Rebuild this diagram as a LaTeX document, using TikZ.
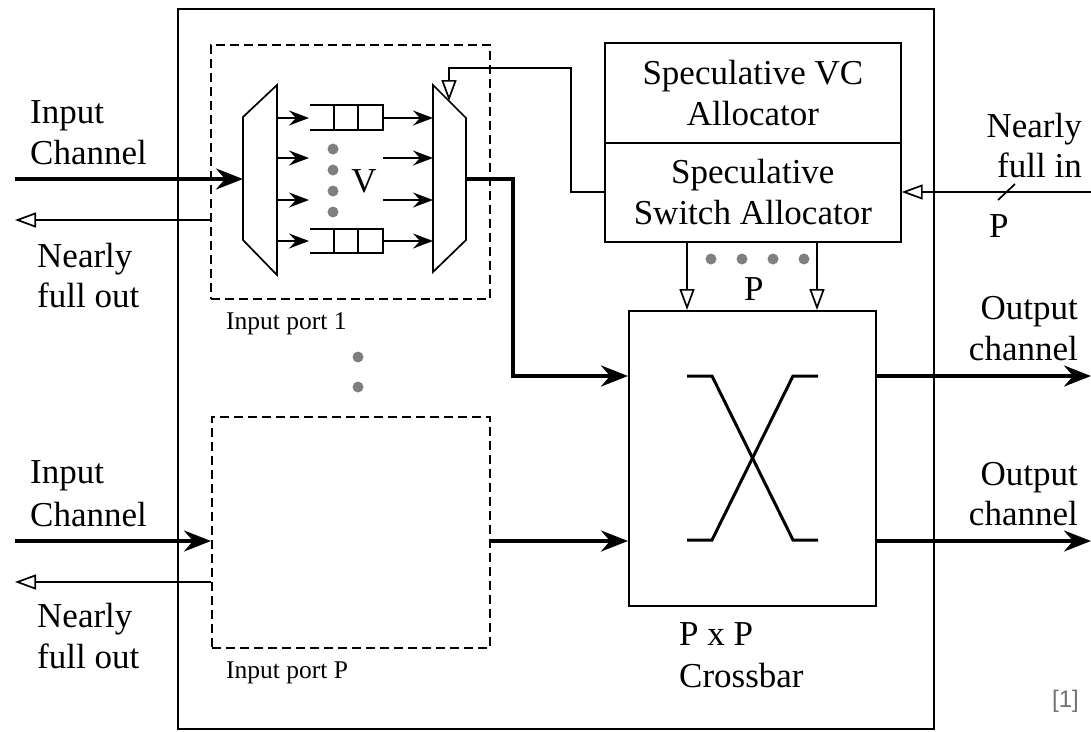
\documentclass[tikz,border=0pt]{standalone}
\usepackage{fontspec}
\setmainfont{Liberation Serif}
\newfontfamily\refsans{Liberation Sans}
\usetikzlibrary{arrows.meta}
\begin{document}
\begin{tikzpicture}[x=1pt,y=-1pt,
  thinl/.style={line width=1.7pt},
  thickl/.style={line width=3.8pt},
  bigtext/.style={font=\fontsize{35}{41}\selectfont, inner sep=0pt},
  portlabel/.style={font=\fontsize{25.5}{30}\selectfont, inner sep=0pt},
  bigarrow/.style={thickl, line join=miter, -{Stealth[length=27pt,width=21pt,inset=9pt]}},
  smallarrow/.style={thinl, -{Stealth[length=20pt,width=15pt,inset=7pt]}},
  openarrow/.style={thinl, -{Triangle[open,length=21pt,width=15pt,fill=white]}},
  portbox/.style={draw, thinl, dash pattern=on 9pt off 5pt, inner sep=0pt, anchor=north west},
  blockbox/.style={draw, thinl, inner sep=0pt, anchor=north west, align=center,
                   font=\fontsize{35}{41}\selectfont},
  graydot/.style={circle, fill=black!50, minimum size=11pt, inner sep=0pt},
]
\useasboundingbox (0,0) rectangle (1091,731);

% router outline
\node[draw, thinl, inner sep=0pt, anchor=north west, minimum width=756pt, minimum height=720pt] (router) at (177,8) {};

% input ports
\node[portbox, minimum width=279pt, minimum height=254pt] (port1) at (210,44) {};
\node[portbox, minimum width=278pt, minimum height=231pt] (portP) at (211,416) {};
\node[portlabel, anchor=base west] (port1lbl) at (226,329) {Input port 1};
\node[portlabel, anchor=base west] (portPlbl) at (226,678) {Input port P};
\node[graydot] (pd1) at (358,357) {};
\node[graydot] (pd2) at (358,387) {};

% allocators
\node[blockbox, minimum width=296pt, minimum height=100pt] (vcalloc) at (604,42) {Speculative VC\\Allocator};
\node[blockbox, minimum width=296pt, minimum height=99pt] (swalloc) at (604,142) {Speculative\\Switch Allocator};

% crossbar
\node[draw, thinl, inner sep=0pt, anchor=north west, minimum width=247pt, minimum height=295pt] (xbar) at (628,310) {};
\draw[line width=3pt] (687,376) -- (712,376) -- (793,540) -- (818,540);
\draw[line width=3pt] (687,540) -- (712,540) -- (793,376) -- (818,376);
\node[bigtext, anchor=base west] (xbarlbl1) at (679,645) {P x P};
\node[bigtext, anchor=base west] (xbarlbl2) at (679,687) {Crossbar};

% demux and mux
\coordinate (d1) at (277,85); \coordinate (d2) at (243,117);
\coordinate (d3) at (243,240); \coordinate (d4) at (277,275);
\draw[thinl, line join=miter] (d1) -- (d2) -- (d3) -- (d4) -- cycle;
\coordinate (m1) at (433,85); \coordinate (m2) at (466,118);
\coordinate (m3) at (466,240); \coordinate (m4) at (433,272);
\draw[thinl, line join=miter] (m1) -- (m2) -- (m3) -- (m4) -- cycle;

% queues
\draw[thinl] (310,105) -- (383,105) -- (383,130) -- (310,130);
\draw[thinl] (334,105) -- (334,130) (358,105) -- (358,130);
\draw[thinl] (310,229) -- (383,229) -- (383,253) -- (310,253);
\draw[thinl] (334,229) -- (334,253) (358,229) -- (358,253);

% arrows demux -> queues, queues -> mux
\foreach \yy in {118,158,200,241} {
  \coordinate (qa\yy) at (277,\yy);
  \coordinate (qb\yy) at (309,\yy);
  \coordinate (qc\yy) at (383,\yy);
  \coordinate (qd\yy) at (433,\yy);
  \draw[smallarrow] (qa\yy) -- (qb\yy);
  \draw[smallarrow] (qc\yy) -- (qd\yy);
}
\foreach \yy in {149,170,191,212} { \node[graydot] (vd\yy) at (333,\yy) {}; }
\node[bigtext, anchor=base] (vlbl) at (364,192) {V};

% input port 1 connections
\coordinate (in1) at (15,179); \coordinate (dmxin) at (243,179);
\draw[bigarrow] (in1) -- (dmxin);
\coordinate (nfo1s) at (210,220); \coordinate (nfo1e) at (15,220);
\draw[openarrow] (nfo1s) -- (nfo1e);
\coordinate (muxout) at (466,179);
\draw[bigarrow] (muxout) -- (513,179) -- (513,376) -- (xbar.west |- 0,376);

% input port P connections
\coordinate (inP) at (15,541);
\draw[bigarrow] (inP) -- (portP.west |- 0,541);
\coordinate (nfoPe) at (15,582);
\draw[openarrow] (portP.west |- 0,582) -- (nfoPe);
\draw[bigarrow] (portP.east |- 0,541) -- (xbar.west |- 0,541);

% feedback from switch allocator to mux
\coordinate (muxsel) at (449,101);
\draw[openarrow] (swalloc.west |- 0,192) -- (571,192) -- (571,68) -- (449,68) -- (muxsel);

% nearly full in
\coordinate (nfin) at (1091,192);
\draw[openarrow] (nfin) -- (swalloc.east |- 0,192);
\draw[thinl] (998,200) -- (1015,184);
\node[bigtext, anchor=base west] (nfinP) at (989,237) {P};

% allocator -> crossbar
\draw[openarrow] (687,241) -- (687,310);
\draw[openarrow] (817,241) -- (817,310);
\foreach \xx in {711,742,773,804} { \node[graydot] (ad\xx) at (\xx,259) {}; }
\node[bigtext, anchor=base west] (allocP) at (744,300) {P};

% outputs
\coordinate (out1) at (1091,376); \coordinate (out2) at (1091,541);
\draw[bigarrow] (xbar.east |- 0,376) -- (out1);
\draw[bigarrow] (xbar.east |- 0,541) -- (out2);

% labels left
\node[bigtext, anchor=base west] (l1) at (30,123) {Input};
\node[bigtext, anchor=base west] (l2) at (30,164) {Channel};
\node[bigtext, anchor=base west] (l3) at (37,267) {Nearly};
\node[bigtext, anchor=base west] (l4) at (37,307) {full out};
\node[bigtext, anchor=base west] (l5) at (30,483) {Input};
\node[bigtext, anchor=base west] (l6) at (30,526) {Channel};
\node[bigtext, anchor=base west] (l7) at (37,627) {Nearly};
\node[bigtext, anchor=base west] (l8) at (37,668) {full out};

% labels right
\node[bigtext, anchor=base east] (r1) at (1082,137) {Nearly};
\node[bigtext, anchor=base east] (r2) at (1082,177) {full in};
\node[bigtext, anchor=base east] (r3) at (1078,319) {Output};
\node[bigtext, anchor=base east] (r4) at (1078,360) {channel};
\node[bigtext, anchor=base east] (r5) at (1078,485) {Output};
\node[bigtext, anchor=base east] (r6) at (1078,525) {channel};

% reference mark
\node[font=\refsans\fontsize{24}{28}\selectfont, text=black!55, inner sep=0pt, anchor=base east] (ref) at (1079,707) {[1]};
\end{tikzpicture}
\end{document}
